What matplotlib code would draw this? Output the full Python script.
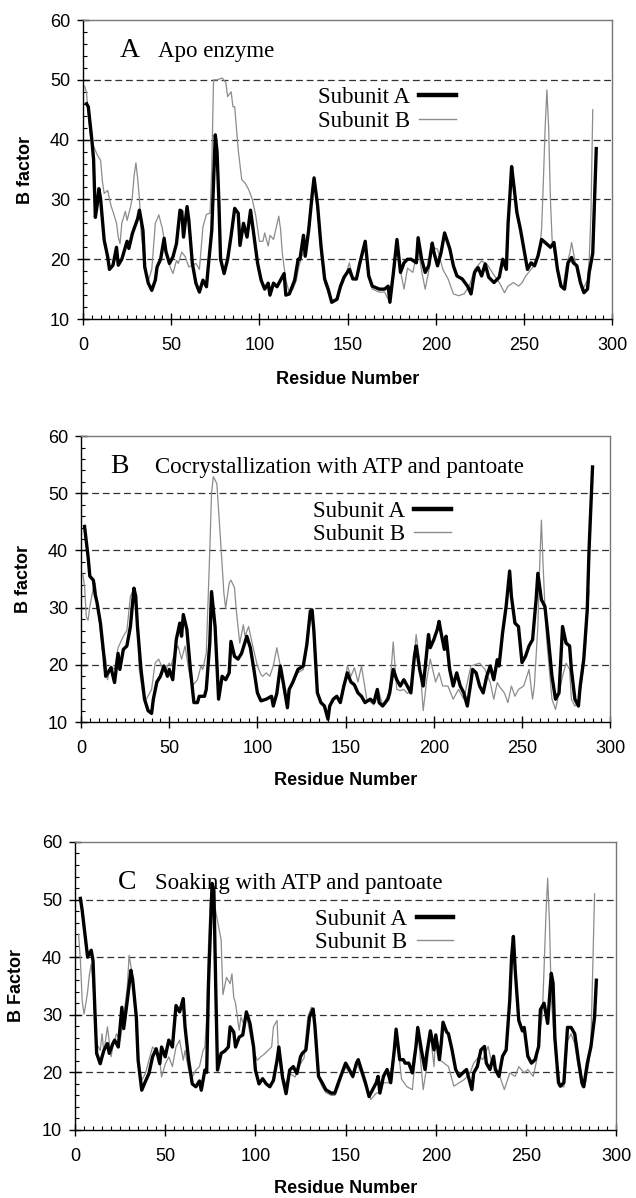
import matplotlib
matplotlib.use("Agg")
import matplotlib.pyplot as plt
from matplotlib.ticker import MultipleLocator
from matplotlib.lines import Line2D

# ---- data (residue number, B factor) ----
# Panel A: apo enzyme
apo_a_res = [2, 3, 5, 6, 7, 8, 9, 10, 12, 14, 15, 17, 19, 20, 22, 25, 26, 28, 31, 32, 34, 35, 37, 39,
             41, 42, 44, 46, 47, 49, 51, 53, 55, 56, 57, 59, 60, 62, 64, 66, 68, 70, 71, 73, 74, 75,
             76, 77, 78, 80, 82, 84, 86, 88, 89, 91, 93, 95, 97, 99, 101, 103, 105, 106, 108, 110,
             112, 114, 115, 117, 120, 122, 123, 125, 126, 128, 130, 131, 133, 135, 137, 139, 141,
             144, 146, 148, 151, 153, 155, 157, 160, 162, 164, 168, 171, 173, 174, 176, 178, 180,
             182, 184, 186, 189, 190, 192, 194, 196, 198, 199, 201, 203, 205, 208, 210, 212, 215,
             218, 220, 222, 224, 226, 228, 230, 233, 236, 238, 240, 241, 242, 243, 244, 246, 248,
             250, 252, 254, 256, 258, 260, 262, 265, 267, 269, 271, 273, 275, 277, 278, 280, 282,
             284, 286, 287, 289, 290, 291]
apo_a_b = [46, 45.5, 40, 36.7, 27, 29, 31.8, 30, 23.2, 20.4, 18.3, 19, 22, 19, 20, 23, 21.8, 24.3,
           26.8, 28.2, 24.8, 18.7, 16, 14.8, 16.5, 18.7, 20, 23.5, 21.3, 19.3, 20.4, 22.6, 28.2, 28,
           23.7, 28.8, 26.5, 19.3, 16, 14.5, 16.5, 15.4, 18.7, 24.8, 33, 40.8, 38, 30, 20, 17.6, 20,
           24, 28.5, 27.7, 22.3, 26, 23.7, 28.2, 23.7, 19.3, 16.5, 15, 16, 14, 16, 15.4, 16.5, 17.6,
           14, 14.2, 16.5, 20, 20, 24, 20.5, 25, 31, 33.6, 29, 22, 16.7, 15, 12.8, 13.3, 15.5, 17,
           18.3, 16.7, 16.7, 19.4, 23, 17.2, 15.5, 15, 15, 15.5, 12.8, 17.8, 23.3, 17.8, 19.4, 20,
           20, 19.4, 23.6, 20, 17.8, 18.9, 22.7, 21.1, 18.9, 21.1, 24.4, 21.7, 18.9, 17.2, 16.7,
           15.5, 14.2, 17.8, 18.6, 17.2, 19.2, 17, 16.1, 17, 20, 18.3, 26, 30.5, 35.5, 33, 27.8,
           25, 21.7, 18.3, 19.4, 18.9, 20.6, 23.3, 22.8, 22, 22.8, 18.3, 15.5, 15, 19.4, 20.3,
           19.4, 18.9, 16.1, 14.4, 15, 17.8, 21, 30, 38.5]
apo_b_res = [1, 2, 4, 6, 8, 10, 11, 12, 14, 16, 17, 19, 20, 21, 22, 24, 25, 27, 28, 29, 30, 31, 32,
             33, 35, 36, 37, 39, 41, 43, 45, 47, 49, 51, 53, 54, 56, 58, 60, 62, 64, 66, 68, 70, 72,
             73, 74, 76, 79, 81, 82, 84, 85, 86, 88, 90, 92, 94, 96, 98, 100, 102, 103, 105, 106,
             108, 111, 112, 113, 115, 117, 119, 121, 122, 124, 126, 129, 131, 133, 135, 137, 139,
             141, 144, 146, 148, 151, 153, 155, 157, 160, 162, 164, 168, 171, 173, 176, 178, 180,
             182, 184, 187, 190, 192, 194, 196, 198, 201, 204, 207, 210, 213, 216, 219, 222, 226,
             229, 232, 236, 239, 241, 244, 247, 249, 251, 254, 257, 259, 260, 261, 262, 263, 264,
             265, 266, 268, 270, 272, 274, 276, 277, 280, 283, 286, 287, 288, 289]
apo_b_b = [48.9, 47.8, 41, 38.9, 37.5, 36.5, 33, 31, 31.5, 28.8, 28, 26, 23.7, 22.6, 26, 28, 26.5,
           28.8, 30.5, 34, 36.1, 33.5, 30, 24.3, 19.3, 17, 16.4, 18.3, 26, 27.4, 25.1, 21.5, 19,
           17.6, 19.8, 19.3, 21.2, 20.4, 18.7, 19, 19.3, 18.3, 25.4, 27.5, 27.7, 35, 50, 50, 50.3,
           49.5, 47.2, 48, 45.5, 45.5, 38.3, 33.3, 32.7, 31.6, 30, 27.2, 23, 23, 24.4, 22.2, 24,
           23.3, 27.2, 25, 21, 16.5, 14.4, 15, 16.5, 18.3, 20.5, 21.5, 28, 33, 28, 21, 16, 14.5,
           13, 13.5, 15, 16.5, 19.4, 17, 16.5, 19, 22, 17, 15, 14.5, 14.5, 13.3, 17, 22.8, 18, 15,
           18.5, 17.8, 22, 18, 15, 18, 22, 21.7, 18.3, 16.7, 14.2, 13.9, 14.2, 15.5, 18.3, 19.7,
           19.2, 17.8, 16.1, 14.4, 15.5, 16.1, 15.5, 16.1, 17.2, 18.3, 19.4, 22, 25, 33, 42, 48.3,
           42, 30, 23, 20, 16.5, 15, 18.9, 21, 22.8, 18, 14.7, 16.5, 20, 27.8, 45]

# Panel B: cocrystallization with ATP and pantoate
cocr_a_res = [2, 4, 5, 7, 8, 9, 11, 13, 14, 15, 17, 19, 21, 22, 24, 26, 28, 30, 31, 32, 34, 36, 38,
              40, 41, 43, 45, 47, 49, 50, 52, 54, 56, 57, 58, 60, 62, 64, 66, 67, 70, 71, 73, 74,
              76, 78, 80, 82, 84, 85, 87, 89, 91, 94, 96, 98, 100, 102, 105, 108, 109, 111, 113,
              115, 117, 118, 120, 123, 126, 128, 130, 131, 132, 134, 136, 138, 140, 141, 143, 145,
              147, 149, 151, 153, 155, 157, 159, 161, 164, 166, 168, 169, 171, 174, 175, 177, 179,
              181, 183, 185, 187, 189, 190, 192, 194, 195, 197, 198, 200, 202, 203, 204, 206, 207,
              209, 211, 213, 215, 217, 219, 221, 222, 224, 226, 228, 230, 232, 234, 236, 237, 239,
              241, 243, 244, 246, 248, 250, 252, 254, 256, 258, 259, 261, 263, 265, 267, 269, 271,
              273, 275, 277, 278, 280, 282, 283, 285, 287, 288, 290]
cocr_a_b = [44.2, 38.9, 35.5, 34.8, 32.3, 31, 27.3, 21.5, 18, 18.5, 19.5, 16.9, 22, 19.2, 22.7,
            23.3, 26.7, 33.4, 32, 26.7, 19.2, 14, 12, 11.5, 14, 17, 18, 19.8, 18, 19.2, 17.4, 24.4,
            27.3, 25, 28.8, 26.2, 19.2, 13.4, 13.4, 14.5, 14.5, 15.7, 23.8, 32.8, 26.7, 14, 18,
            17.4, 18.6, 24.1, 21.5, 21, 22, 25, 23, 19.2, 15.1, 13.7, 14, 14.5, 12.8, 15, 19.8,
            16.3, 12.5, 15.7, 16.9, 19.2, 19.8, 23.5, 29.4, 29.6, 26, 15.1, 13.4, 12.8, 10.5, 12.8,
            14, 14.5, 13.4, 16.3, 18.6, 17, 16.5, 15.1, 14.5, 13.4, 14, 13.4, 15.7, 13.4, 12.8, 14,
            15.1, 19.2, 17.4, 16.3, 17.4, 16.3, 15.1, 21.5, 23.3, 19.2, 16.3, 19.2, 25.3, 23, 24.4,
            26.2, 27.6, 25.8, 22.7, 25, 19.2, 16.3, 18.6, 16.3, 15.1, 12.8, 16.9, 19.2, 18.6, 16.3,
            15.1, 18, 19.8, 17.4, 20.9, 19.8, 25.6, 30.2, 36.4, 32, 27.3, 26.7, 20.4, 21.5, 23.3,
            24.4, 31.4, 36, 31.4, 30.2, 24.4, 18, 14, 15.1, 26.7, 23.8, 23.3, 19.2, 14, 12.8, 16.3,
            20.9, 29.6, 40, 54.6]
cocr_b_res = [1, 2, 3, 4, 5, 7, 8, 10, 12, 14, 15, 17, 19, 21, 24, 26, 28, 30, 32, 33, 35, 37, 40,
              42, 44, 46, 48, 50, 51, 53, 55, 57, 59, 61, 63, 66, 68, 69, 71, 73, 74, 75, 77, 79,
              81, 82, 84, 85, 87, 88, 89, 90, 92, 93, 95, 97, 100, 102, 103, 105, 107, 109, 111,
              113, 115, 117, 119, 120, 123, 126, 128, 130, 131, 132, 134, 136, 138, 140, 141, 143,
              145, 147, 149, 151, 153, 155, 157, 159, 162, 164, 166, 169, 171, 173, 175, 177, 179,
              181, 183, 185, 187, 190, 192, 194, 196, 198, 201, 203, 205, 208, 211, 214, 217, 221,
              223, 226, 229, 232, 234, 236, 237, 240, 242, 244, 246, 248, 251, 254, 256, 257, 259,
              260, 261, 262, 263, 264, 265, 267, 269, 271, 273, 275, 277, 278, 280, 282, 284, 286,
              287, 288]
cocr_b_b = [36, 33.7, 28.4, 27.8, 30.2, 33.5, 34.3, 29, 22.7, 21, 17.4, 19.8, 19.2, 23, 25, 26, 32,
            33.2, 26.7, 19.2, 15.1, 14, 15.7, 20.3, 21, 19.5, 19.2, 20.3, 19.8, 22, 23.3, 21, 23.3,
            19.2, 16.3, 17.4, 19.8, 19.2, 22, 40, 50, 52.9, 51.7, 42.3, 32.5, 29.9, 34.3, 34.8,
            33.5, 29.6, 26.7, 23.8, 27, 25, 26.7, 23.8, 19.8, 18.3, 18, 18.6, 18, 19.8, 23, 19.8,
            15.1, 14, 16.3, 16.9, 18.6, 19.2, 23.3, 27.9, 28, 25, 15, 13.4, 12.8, 11, 12.8, 14,
            14.5, 13.4, 16.3, 19.8, 18, 19.5, 17, 19.8, 14, 13.5, 13, 15.1, 13, 14, 15.7, 24, 15.7,
            15.5, 15.7, 15, 15.5, 25.3, 20.5, 12, 17.4, 21, 17, 18.6, 16.3, 16.3, 14, 15.7, 14,
            19.8, 20, 20.3, 19.2, 16.9, 14, 16.9, 16.3, 15.1, 13.4, 16.3, 14.5, 15.7, 16.3, 19.2,
            14, 16.3, 26.7, 37.2, 45.3, 37.2, 30.2, 24.4, 20.9, 14, 12.2, 15.1, 18, 20.3, 19.2, 14,
            12.8, 13.4, 17.4, 23.3, 29, 33]

# Panel C: soaking with ATP and pantoate
soak_a_res = [3, 4, 6, 7, 9, 10, 11, 12, 14, 15, 16, 18, 19, 21, 22, 24, 26, 27, 29, 31, 32, 34, 35,
              37, 39, 41, 43, 45, 47, 48, 50, 52, 54, 56, 58, 60, 61, 63, 65, 67, 69, 70, 72, 73,
              74, 76, 77, 78, 79, 81, 83, 85, 86, 88, 89, 91, 93, 95, 97, 99, 100, 102, 104, 106,
              108, 110, 112, 113, 115, 117, 119, 121, 123, 125, 126, 128, 130, 132, 133, 135, 137,
              139, 142, 144, 146, 148, 150, 152, 154, 156, 157, 159, 161, 163, 165, 167, 168, 169,
              171, 173, 175, 177, 178, 180, 182, 183, 185, 187, 189, 190, 192, 194, 195, 197, 199,
              200, 202, 203, 204, 206, 207, 209, 211, 213, 215, 217, 219, 220, 221, 223, 225, 227,
              228, 230, 232, 233, 235, 237, 239, 241, 242, 243, 244, 246, 248, 249, 251, 253, 255,
              257, 258, 260, 262, 264, 265, 266, 268, 269, 271, 273, 275, 277, 279, 281, 282, 284,
              286, 288, 289]
soak_a_b = [50.2, 48.1, 42.6, 40, 41.2, 39.4, 31, 23.3, 21.5, 22.7, 23.8, 25, 23.3, 25, 25.6, 24.4,
            31.3, 27.6, 32.5, 37.7, 36, 29.6, 22.1, 16.9, 18.4, 19.8, 22.7, 24.1, 21.5, 24.4, 22.7,
            25.6, 24.4, 31.6, 30.5, 32.8, 27.9, 22.1, 18, 17.5, 18.5, 16.9, 20.4, 20, 35.4, 52.8,
            51.6, 35, 20.4, 23.3, 23.7, 24.4, 27.9, 27, 24.4, 26.1, 26.5, 30.5, 28.5, 24.4, 20.4,
            18, 18.9, 18, 17.5, 18.6, 22.1, 24.4, 19.2, 16.3, 20.4, 21, 19.8, 22.7, 23.3, 23.9,
            29.6, 31, 28, 19.3, 18.2, 17, 16.4, 16.4, 18.2, 19.9, 21.6, 20.5, 19.3, 21.6, 22.2,
            20.2, 18.2, 15.8, 17, 18.2, 19.3, 16.4, 19.3, 20.5, 18.2, 23.9, 27.5, 22.2, 22.2, 21.6,
            21.6, 19.9, 24.5, 27.8, 23.9, 20.5, 23.3, 27.2, 23.9, 26.5, 22.2, 25, 28.7, 27, 26.7,
            23.9, 20.5, 19.3, 19.9, 20.5, 18.2, 17, 19.9, 21, 23.9, 24.5, 21.6, 20.5, 22.8, 20.5,
            19.3, 22.8, 23.9, 32.6, 40, 43.6, 37.8, 29, 27.2, 27.8, 22.8, 21.6, 22.2, 24.5, 30.9,
            32, 28.5, 37.2, 35.5, 26, 18.2, 17.6, 18.2, 27.8, 27.8, 26.7, 22.2, 18.2, 17.5, 21.6,
            24.5, 29.6, 36]
soak_b_res = [2, 3, 4, 5, 6, 7, 8, 9, 11, 12, 14, 15, 16, 18, 20, 21, 23, 25, 27, 29, 30, 32, 34,
              35, 37, 39, 41, 43, 45, 47, 48, 50, 52, 54, 56, 58, 60, 61, 63, 65, 67, 69, 71, 72,
              73, 74, 75, 76, 78, 81, 82, 84, 86, 87, 88, 89, 91, 92, 94, 95, 97, 99, 101, 103, 105,
              107, 109, 110, 112, 113, 115, 117, 119, 122, 125, 127, 129, 131, 133, 135, 137, 139,
              142, 144, 146, 148, 150, 152, 154, 156, 157, 159, 161, 164, 167, 169, 171, 174, 176,
              178, 181, 184, 187, 190, 191, 193, 195, 197, 199, 200, 202, 205, 207, 210, 213, 216,
              219, 221, 224, 226, 229, 231, 234, 236, 238, 241, 244, 246, 249, 251, 254, 256, 257,
              259, 260, 261, 262, 263, 264, 266, 268, 269, 271, 273, 275, 277, 279, 281, 283, 285,
              286, 287, 288]
soak_b_b = [44, 39.4, 32.4, 30.1, 31.9, 34, 37, 38.8, 32, 25, 23.8, 26.7, 23.5, 27.9, 22.7, 24.5,
            26.7, 25.5, 29.6, 34.8, 40.3, 36.5, 28, 21.5, 18.6, 19.8, 22.1, 24.4, 23.8, 22.1, 19.2,
            21.4, 22.7, 21, 24.4, 25.6, 22.1, 23.8, 20.4, 19.2, 20.4, 21, 23.8, 24.4, 29.6, 42, 50,
            52.2, 48, 43, 33.5, 36.5, 35.4, 37.1, 33, 32, 27.3, 29.6, 28, 30.2, 26.7, 23.8, 22.1,
            22.7, 23.2, 23.8, 24.4, 27.9, 29, 22.1, 19.2, 18, 19.8, 19.2, 21.5, 22.5, 29.5, 31.3,
            28, 19, 17.5, 16.5, 16, 16, 17.5, 19.5, 20.9, 20, 19, 21.5, 21, 19.5, 17.5, 15.3, 16.4,
            16.5, 18.2, 18.2, 22, 27.5, 18.8, 17.5, 17, 27, 24, 17, 21, 26.5, 21, 26.5, 22.2, 21.5,
            21, 17.6, 18.2, 18.8, 19.9, 21.6, 22.8, 22.2, 24.5, 21.6, 20.5, 18.8, 17, 19.9, 19.3,
            21, 19.9, 20.5, 19.3, 22.2, 26.2, 29.7, 38, 47, 53.7, 46, 33, 24, 19.9, 17.5, 17.5,
            25.5, 26.7, 24.9, 20.9, 17.5, 18.2, 22, 25.5, 38, 51]

panel_letters = ["A", "B", "C"]
panel_titles = ["Apo enzyme", "Cocrystallization with ATP and pantoate",
                "Soaking with ATP and pantoate"]
y_labels = ["B factor", "B factor", "B Factor"]

panels = [
    (apo_a_res, apo_a_b, apo_b_res, apo_b_b),
    (cocr_a_res, cocr_a_b, cocr_b_res, cocr_b_b),
    (soak_a_res, soak_a_b, soak_b_res, soak_b_b),
]

# axes rectangles in figure fractions (figure 636 x 1198 px)
rects = [
    [0.1305, 0.7337, 0.832, 0.2496],
    [0.1274, 0.3973, 0.832, 0.2387],
    [0.1179, 0.0568, 0.851, 0.2404],
]
# title / legend placement in axes fractions
letter_pos = [(0.070, 0.876), (0.055, 0.871), (0.079, 0.837)]
title_x = [0.142, 0.140, 0.148]
legend_anchor = [(0.705, 0.775), (0.699, 0.773), (0.699, 0.767)]

serif = ["Liberation Serif", "DejaVu Serif"]
sans = ["Liberation Sans", "DejaVu Sans"]

fig = plt.figure(figsize=(6.36, 11.98), dpi=100)

for i, (ra, ba, rb, bb) in enumerate(panels):
    ax = fig.add_axes(rects[i])
    ax.set_xlim(0, 300)
    ax.set_ylim(10, 60)

    for yv in [20, 30, 40, 50]:
        ax.axhline(yv, color="#333333", lw=0.9, dashes=(5.5, 3), zorder=1)

    lb, = ax.plot(rb, bb, color="#8c8c8c", lw=0.9, zorder=2)
    la, = ax.plot(ra, ba, color="black", lw=2.4, zorder=3,
                  solid_joinstyle="round")

    ax.xaxis.set_major_locator(MultipleLocator(50))
    ax.xaxis.set_minor_locator(MultipleLocator(5))
    ax.yaxis.set_major_locator(MultipleLocator(10))
    ax.yaxis.set_minor_locator(MultipleLocator(2))
    ax.tick_params(which="major", direction="inout", length=8.5, width=1.0,
                   labelsize=13, top=False, right=False)
    ax.tick_params(axis="x", which="major", pad=9)
    ax.tick_params(axis="y", which="major", pad=5)
    ax.tick_params(which="minor", direction="in", length=3, width=0.8,
                   top=False, right=False)
    for lab in ax.get_xticklabels() + ax.get_yticklabels():
        lab.set_family(sans)

    for s in ["left", "bottom"]:
        ax.spines[s].set_linewidth(1.0)
    for s in ["top", "right"]:
        ax.spines[s].set_color("#777777")
        ax.spines[s].set_linewidth(1.0)

    ax.set_xlabel("Residue Number", family=sans, fontsize=13, fontweight="bold")
    ax.xaxis.set_label_coords(0.5, -0.175)
    ax.set_ylabel(y_labels[i], family=sans, fontsize=13, fontweight="bold")
    ax.yaxis.set_label_coords(-0.093, 0.5)

    lx, ly = letter_pos[i]
    ax.text(lx, ly, panel_letters[i], transform=ax.transAxes, family=serif,
            fontsize=20, ha="left", va="baseline")
    ax.text(title_x[i], ly, panel_titles[i], transform=ax.transAxes,
            family=serif, fontsize=16.5, ha="left", va="baseline")

    h_a = Line2D([], [], color="black", lw=3.2)
    h_b = Line2D([], [], color="#8c8c8c", lw=1.0)
    ax.legend([h_a, h_b], ["Subunit A", "Subunit B"], loc="upper right",
              bbox_to_anchor=legend_anchor[i], frameon=False, markerfirst=False,
              borderpad=0, borderaxespad=0, handlelength=1.6, handletextpad=0.4,
              labelspacing=0.1, prop={"family": serif, "size": 16.5})

fig.savefig("out.png", dpi=100, facecolor="white")
